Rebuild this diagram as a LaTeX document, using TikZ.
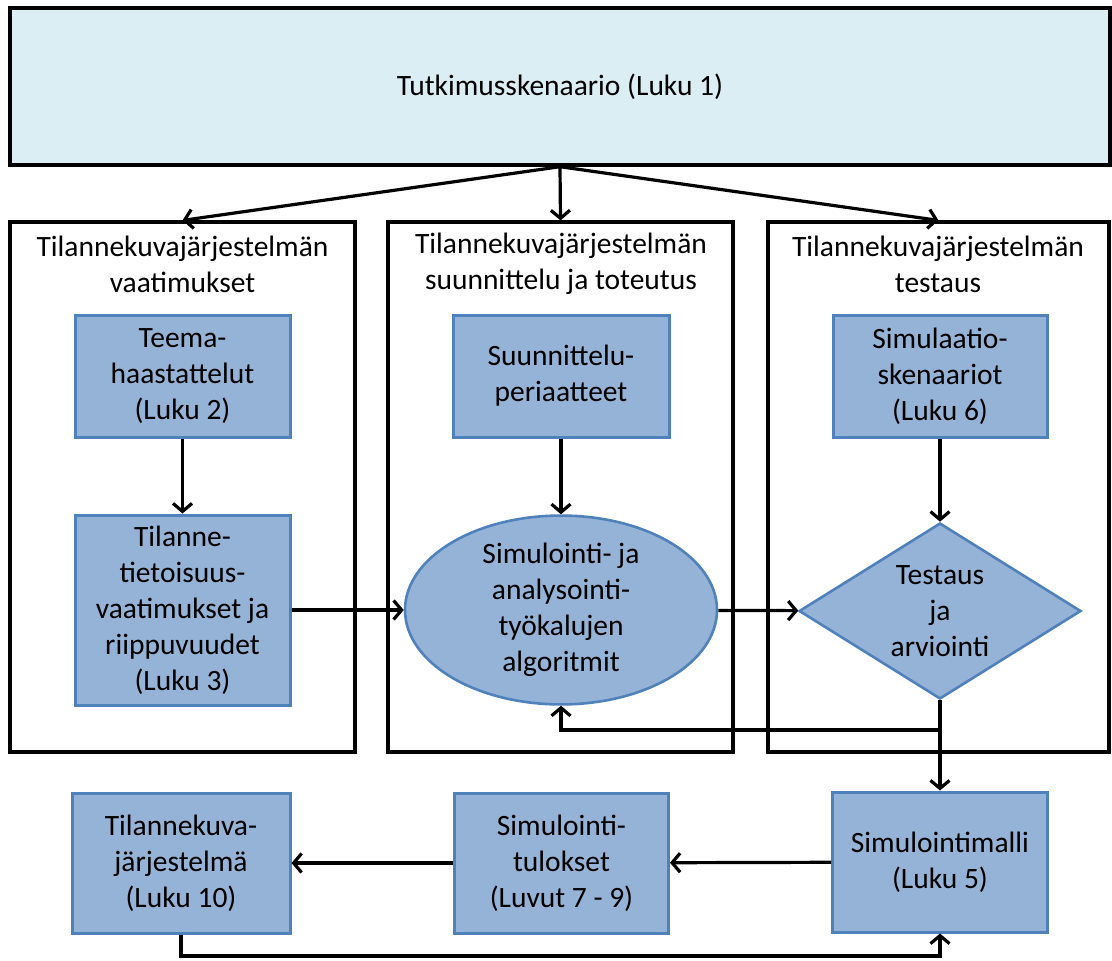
\documentclass[tikz,border=0pt]{standalone}
\usepackage{fontspec}
\setmainfont{Carlito}
\usetikzlibrary{arrows.meta,shapes.geometric}
\definecolor{topfill}{HTML}{DBEEF4}
\definecolor{boxfill}{HTML}{95B3D7}
\definecolor{boxline}{HTML}{4F81BD}
\begin{document}
\begin{tikzpicture}[x=1pt,y=-1pt,
  every node/.style={font=\fontsize{29.5}{36}\selectfont, align=center, inner sep=0pt},
  topbox/.style={draw=black, line width=3.4pt, fill=topfill, minimum width=1100, minimum height=157},
  panel/.style={draw=black, line width=3.2pt, minimum height=530},
  bluebox/.style={draw=boxline, line width=3pt, fill=boxfill, rectangle},
  blueoval/.style={draw=boxline, line width=2.6pt, fill=boxfill, ellipse, minimum width=312, minimum height=165},
  bluediamond/.style={draw=boxline, line width=2.6pt, fill=boxfill, diamond, aspect=1.6, minimum width=282, minimum height=176},
  conn/.style={draw=black, line width=3.2pt, -{Straight Barb[length=8pt,width=19pt,line width=3.2pt]}},
  plain/.style={draw=black, line width=3.2pt}
]
\useasboundingbox (0,0) rectangle (1112,961);

% header
\node[topbox] (top) at (560,86.5) {Tutkimusskenaario (Luku 1)};

% three panels
\node[panel, minimum width=345] (pl) at (182.5,487) {};
\node[panel, minimum width=345] (pm) at (560.5,487) {};
\node[panel, minimum width=341] (pr) at (938.5,487) {};

\node (tl) at (182.5,264) {Tilannekuvajärjestelmän\\vaatimukset};
\node (tm) at (561,264) {Tilannekuvajärjestelmän\\suunnittelu ja toteutus};
\node (tr) at (938,264) {Tilannekuvajärjestelmän\\testaus};

% left panel
\node[bluebox, minimum width=215, minimum height=122] (teema) at (182.5,376)
  {Teema-\\haastattelut\\(Luku 2)};
\node[bluebox, minimum width=215, minimum height=190] (tila) at (182.5,610)
  {Tilanne-\\tietoisuus-\\vaatimukset ja\\riippuvuudet\\(Luku 3)};

% middle panel
\node[bluebox, minimum width=216, minimum height=122] (suun) at (561,376)
  {Suunnittelu-\\periaatteet};
\node[blueoval] (alg) at (561,610)
  {Simulointi- ja\\analysointi-\\työkalujen\\algoritmit};

% right panel
\node[bluebox, minimum width=214, minimum height=122] (skena) at (940,376)
  {Simulaatio-\\skenaariot\\(Luku 6)};
\node[bluediamond] (test) at (940,611) {Testaus\\ja\\arviointi};

% bottom row
\node[bluebox, minimum width=218, minimum height=140] (jarj) at (181,863)
  {Tilannekuva-\\järjestelmä\\(Luku 10)};
\node[bluebox, minimum width=214, minimum height=140] (tulos) at (561.5,863)
  {Simulointi-\\tulokset\\(Luvut 7 - 9)};
\node[bluebox, minimum width=215, minimum height=140] (malli) at (940,862)
  {Simulointimalli\\(Luku 5)};

\coordinate (split) at (940,730);
\coordinate (back) at (561,730);
\coordinate (low1) at (181,956);
\coordinate (low2) at (940,956);

% connectors
\draw[conn] (top.south) -- (pl.north);
\draw[conn] (top.south) -- (pm.north);
\draw[conn] (top.south) -- (pr.north);
\draw[conn] (teema) -- (tila);
\draw[conn] (suun) -- (alg);
\draw[conn] (skena) -- (test);
\draw[conn] (tila) -- (alg);
\draw[conn] (alg) -- (test);
\draw[conn] (test) -- (malli);
\draw[conn] (split) -- (back) -- (alg.south);
\draw[conn] (malli) -- (tulos);
\draw[conn] (tulos) -- (jarj);
\draw[conn] (jarj.south) -- (low1) -- (low2) -- (malli.south);
\end{tikzpicture}
\end{document}
